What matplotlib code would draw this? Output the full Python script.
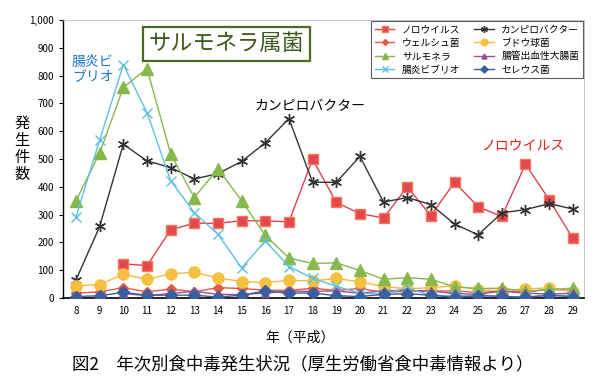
import numpy as np
import matplotlib
matplotlib.use('Agg')
from matplotlib import pyplot as plt

plt.rcParams['font.family'] = ['Noto Sans CJK JP', 'DejaVu Sans']

# 年（平成）
years = list(range(8, 30))

# 件数 (H8-H29), None = no data
norovirus = [None, None, 123, 116, 245, 269, 268, 278, 277, 274, 499, 344, 303, 288, 399, 296, 416, 328, 293, 481, 354, 214]
campylo = [65, 257, 553, 493, 469, 428, 447, 491, 558, 645, 416, 416, 509, 345, 361, 336, 266, 227, 306, 318, 339, 320]
welchii = [17, 22, 37, 22, 32, 22, 37, 34, 28, 27, 35, 27, 34, 20, 24, 24, 26, 19, 25, 21, 31, 27]
staph = [44, 48, 85, 67, 87, 92, 72, 59, 55, 63, 61, 70, 58, 41, 33, 37, 44, 29, 26, 33, 36, 22]
salmonella = [350, 521, 757, 825, 518, 361, 465, 350, 225, 144, 124, 126, 99, 67, 73, 67, 40, 34, 35, 24, 31, 35]
ehec = [None, None, 16, 8, 16, 24, 13, 12, 18, 24, 24, 25, 17, 26, 27, 25, 16, 13, 25, 17, 14, 17]
vibrio = [292, 568, 839, 667, 422, 307, 229, 108, 205, 113, 71, 42, 17, 14, 36, 9, 9, 9, 6, 3, 12, 7]
cereus = [5, 8, 20, 10, 10, 10, 3, 10, 25, 17, 18, 8, 5, 13, 15, 10, 2, 8, 6, 2, 9, 5]

series = [
    ('ノロウイルス', norovirus, '#e0404e', 's', '#e4484e', 7),
    ('カンピロバクター', campylo, '#333333', (6, 2, 0), '#333333', 8),
    ('ウェルシュ菌', welchii, '#e45a48', 'D', '#e45a48', 5),
    ('ブドウ球菌', staph, '#f5b840', 'o', '#f5c040', 8),
    ('サルモネラ', salmonella, '#86b84c', '^', '#86b84c', 8),
    ('腸管出血性大腸菌', ehec, '#a04a9a', '^', '#a04a9a', 6),
    ('腸炎ビブリオ', vibrio, '#5ec0e0', 'x', '#5ec0e0', 7),
    ('セレウス菌', cereus, '#3a5fa0', 'D', '#3a5fa0', 6),
]

fig = plt.figure(figsize=(6, 3.91), dpi=100)
ax = fig.add_axes([0.105, 0.238, 0.868, 0.711])

handles = []
for name, vals, col, mk, mcol, ms in series:
    y = np.array([np.nan if v is None else v for v in vals], dtype=float)
    h, = ax.plot(years, y, color=col, lw=1.0, marker=mk, markersize=ms,
                 markerfacecolor=mcol if mk != 'x' else 'none',
                 markeredgecolor=mcol if mk != 's' else '#f07a5a', markeredgewidth=1.0,
                 label=name, zorder=3)
    handles.append(h)

ax.set_xlim(7.45, 29.465)
ax.set_ylim(0, 1000)
ax.set_xticks(years)
ax.set_yticks(range(0, 1001, 100))
ax.set_yticklabels([f'{v:,}' for v in range(0, 1001, 100)])
ax.tick_params(axis='both', labelsize=7, length=3, width=0.8)
ax.tick_params(axis='x', length=0, pad=6)
for s in ['top', 'right']:
    ax.spines[s].set_color('#bbbbbb')
    ax.spines[s].set_linewidth(0.6)
ax.spines['left'].set_linewidth(1.0)
ax.spines['bottom'].set_linewidth(1.2)

# row-major order in the legend
order = [0, 2, 4, 6, 1, 3, 5, 7]
leg = ax.legend([handles[i] for i in order], [handles[i].get_label() for i in order],
                ncol=2, loc='upper right', fontsize=7, frameon=True, fancybox=False,
                edgecolor='#333333', borderpad=0.35, labelspacing=0.35, handlelength=2.0,
                columnspacing=1.4, markerscale=0.6, bbox_to_anchor=(1.0, 1.0),
                borderaxespad=0.1)
leg.get_frame().set_linewidth(0.8)

ax.text(0.165, 0.915, 'サルモネラ属菌', transform=ax.transAxes, fontsize=16,
        color='#3c5a1c', va='center', ha='left',
        bbox=dict(boxstyle='square,pad=0.25', facecolor='white', edgecolor='#4a6a20', linewidth=1.6))
ax.text(0.017, 0.82, '腸炎ビ\nブリオ', transform=ax.transAxes, fontsize=10,
        color='#1a7ac8', va='center', ha='left', linespacing=1.1)
ax.text(17.9, 690, 'カンピロバクター', fontsize=10, color='black', ha='center', va='center')
ax.text(26.9, 550, 'ノロウイルス', fontsize=10, color='#e0201e', ha='center', va='center')

fig.text(0.037, 0.62, '発\n生\n件\n数', fontsize=11, ha='center', va='center', linespacing=1.0)
fig.text(0.5, 0.137, '年（平成）', fontsize=10, ha='center', va='center')
fig.text(0.505, 0.067, '図2　年次別食中毒発生状況（厚生労働省食中毒情報より）', fontsize=12.5,
         ha='center', va='center')

fig.savefig('out.png', dpi=100)
